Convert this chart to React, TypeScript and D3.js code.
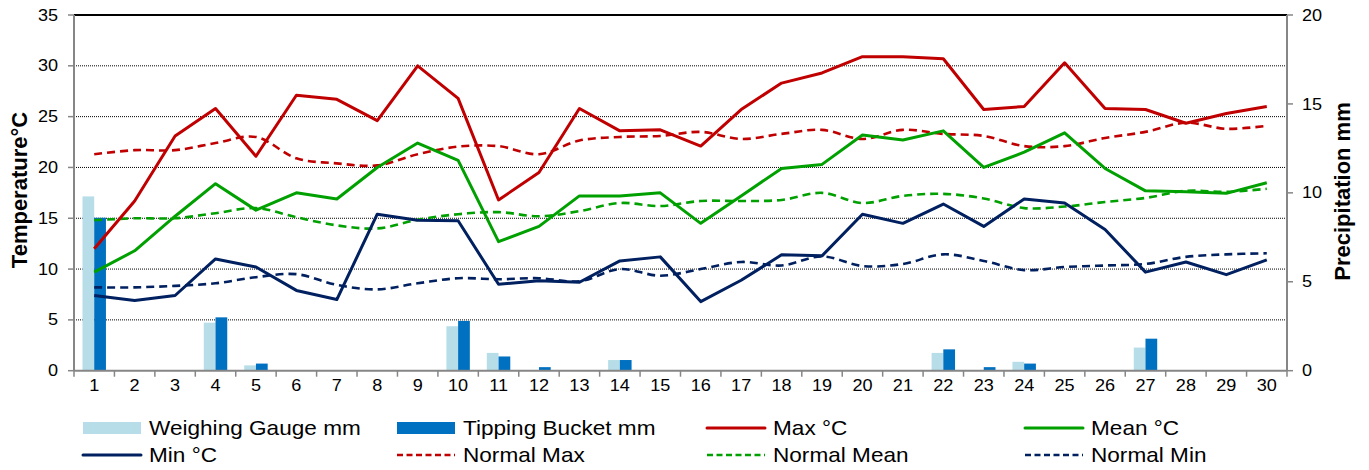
import React from "react";
import * as d3 from "d3";

const days = d3.range(1, 31).map(String);
const tempTicks = [0, 5, 10, 15, 20, 25, 30, 35];
const precipTicks = [0, 5, 10, 15, 20];

const weighingGauge = [9.8, 0, 0, 2.7, 0.3, 0, 0, 0, 0, 2.5, 1.0, 0, 0, 0.6, 0, 0, 0, 0, 0, 0, 0, 1.0, 0, 0.5, 0, 0, 1.3, 0, 0, 0];
const tippingBucket = [8.6, 0, 0, 3.0, 0.4, 0, 0, 0, 0, 2.8, 0.8, 0.2, 0, 0.6, 0, 0, 0, 0, 0, 0, 0, 1.2, 0.2, 0.4, 0, 0, 1.8, 0, 0, 0];

const maxT = [12.0, 16.7, 23.1, 25.8, 21.1, 27.1, 26.7, 24.6, 30.0, 26.8, 16.8, 19.5, 25.8, 23.6, 23.7, 22.1, 25.7, 28.3, 29.3, 30.9, 30.9, 30.7, 25.7, 26.0, 30.3, 25.8, 25.7, 24.35, 25.3, 26.0];
const meanT = [9.7, 11.8, 15.2, 18.4, 15.8, 17.5, 16.9, 20.0, 22.4, 20.7, 12.7, 14.2, 17.2, 17.2, 17.5, 14.5, 17.2, 19.9, 20.3, 23.2, 22.7, 23.6, 20.0, 21.5, 23.4, 19.9, 17.7, 17.6, 17.45, 18.5];
const minT = [7.4, 6.9, 7.4, 11.0, 10.2, 7.9, 7.0, 15.4, 14.8, 14.75, 8.5, 8.85, 8.7, 10.8, 11.2, 6.8, 8.9, 11.4, 11.3, 15.4, 14.5, 16.4, 14.2, 16.9, 16.5, 13.9, 9.7, 10.7, 9.45, 10.9];
const normalMax = [21.3, 21.7, 21.7, 22.4, 23.0, 20.9, 20.4, 20.2, 21.3, 22.05, 22.1, 21.3, 22.65, 23.0, 23.1, 23.5, 22.8, 23.3, 23.7, 22.8, 23.7, 23.3, 23.1, 22.1, 22.1, 22.9, 23.5, 24.4, 23.8, 24.1];
const normalMean = [14.8, 15.0, 15.0, 15.5, 16.0, 15.1, 14.3, 14.0, 14.85, 15.4, 15.6, 15.2, 15.7, 16.5, 16.2, 16.7, 16.7, 16.8, 17.5, 16.5, 17.2, 17.4, 16.95, 16.0, 16.15, 16.6, 17.0, 17.7, 17.6, 17.9];
const normalMin = [8.2, 8.2, 8.35, 8.6, 9.2, 9.5, 8.45, 8.0, 8.6, 9.1, 9.0, 9.1, 8.8, 10.0, 9.35, 10.0, 10.7, 10.35, 11.25, 10.3, 10.5, 11.45, 10.8, 9.9, 10.2, 10.35, 10.5, 11.2, 11.45, 11.55];

const W = 1369;
const H = 470;
const L = 74;
const R = 1287;
const T = 15;
const B = 370.7;

const font = "'Liberation Sans', Arial, sans-serif";

export default function App() {
  const x = d3.scaleBand<string>().domain(days).range([L, R]).paddingInner(0).paddingOuter(0);
  const yT = d3.scaleLinear().domain([0, 35]).range([B, T]);
  const yP = d3.scaleLinear().domain([0, 20]).range([B, T]);
  const bw = x.bandwidth();
  const barW = bw * 0.29;
  const cx = (i: number) => (x(days[i]) as number) + bw / 2;

  const solid = d3.line<number>().x((_, i) => cx(i)).y((v) => yT(v));
  const smooth = d3
    .line<number>()
    .x((_, i) => cx(i))
    .y((v) => yT(v))
    .curve(d3.curveCatmullRom.alpha(0.5));

  const series = [
    { data: normalMin, color: "#002060", dash: true },
    { data: normalMean, color: "#00A000", dash: true },
    { data: normalMax, color: "#C00000", dash: true },
    { data: minT, color: "#002060", dash: false },
    { data: meanT, color: "#00A000", dash: false },
    { data: maxT, color: "#C00000", dash: false },
  ];

  const legend = [
    { label: "Weighing Gauge mm", kind: "bar", color: "#B7DEE8", col: 0, row: 0 },
    { label: "Tipping Bucket mm", kind: "bar", color: "#0070C0", col: 1, row: 0 },
    { label: "Max °C", kind: "line", color: "#C00000", col: 2, row: 0 },
    { label: "Mean °C", kind: "line", color: "#00A000", col: 3, row: 0 },
    { label: "Min °C", kind: "line", color: "#002060", col: 0, row: 1 },
    { label: "Normal Max", kind: "dash", color: "#C00000", col: 1, row: 1 },
    { label: "Normal Mean", kind: "dash", color: "#00A000", col: 2, row: 1 },
    { label: "Normal Min", kind: "dash", color: "#002060", col: 3, row: 1 },
  ];
  const colX = [83, 397, 707, 1025];
  const rowY = [428, 455];
  const sx = 1.13;

  return (
    <svg
      width={W}
      height={H}
      style={{ position: "absolute", left: 0, top: 0, background: "#fff" }}
      fontFamily={font}
    >
      <rect x={0} y={0} width={W} height={H} fill="#fff" />
      {/* gridlines */}
      {tempTicks.filter((t) => t > 0 && t < 35).map((t) => (
        <line key={t} x1={L} x2={R} y1={yT(t)} y2={yT(t)} stroke="#000" strokeWidth={1} strokeDasharray="1,1" />
      ))}
      <line x1={L} x2={R} y1={T} y2={T} stroke="#000" strokeWidth={2} />

      {/* bars */}
      {weighingGauge.map((v, i) => (
        <rect key={"w" + i} x={cx(i) - barW} width={barW} y={yP(v)} height={B - yP(v)} fill="#B7DEE8" />
      ))}
      {tippingBucket.map((v, i) => (
        <rect key={"t" + i} x={cx(i)} width={barW} y={yP(v)} height={B - yP(v)} fill="#0070C0" />
      ))}

      {/* lines */}
      {series.map((s, k) => (
        <path
          key={k}
          d={(s.dash ? smooth(s.data) : solid(s.data)) || ""}
          fill="none"
          stroke={s.color}
          strokeWidth={s.dash ? 2.6 : 3}
          strokeDasharray={s.dash ? "8,5" : undefined}
          strokeLinejoin="round"
        />
      ))}

      {/* axes */}
      <line x1={L} x2={L} y1={T} y2={B} stroke="#868686" strokeWidth={2} />
      <line x1={R} x2={R} y1={T} y2={B} stroke="#868686" strokeWidth={2} />
      <line x1={L} x2={R} y1={B} y2={B} stroke="#868686" strokeWidth={2} />
      {tempTicks.map((t) => (
        <g key={"lt" + t}>
          <line x1={L - 6} x2={L} y1={yT(t)} y2={yT(t)} stroke="#868686" strokeWidth={1.5} />
          <text
            transform={`translate(58,${yT(t)}) scale(${sx},1)`}
            dy="0.35em"
            textAnchor="end"
            fontSize={16}
            fill="#000"
          >
            {t}
          </text>
        </g>
      ))}
      {precipTicks.map((t) => (
        <g key={"rt" + t}>
          <line x1={R} x2={R + 6} y1={yP(t)} y2={yP(t)} stroke="#868686" strokeWidth={1.5} />
          <text
            transform={`translate(1302,${yP(t)}) scale(${sx},1)`}
            dy="0.35em"
            textAnchor="start"
            fontSize={16}
            fill="#000"
          >
            {t}
          </text>
        </g>
      ))}
      {d3.range(0, 31).map((i) => (
        <line key={"xt" + i} x1={L + i * bw} x2={L + i * bw} y1={B} y2={B + 6} stroke="#868686" strokeWidth={1.5} />
      ))}
      {days.map((d, i) => (
        <text
          key={"xl" + d}
          transform={`translate(${cx(i)},391) scale(${sx},1)`}
          textAnchor="middle"
          fontSize={16}
          fill="#000"
        >
          {d}
        </text>
      ))}

      {/* axis titles */}
      <text
        transform={`translate(27,190) rotate(-90)`}
        textAnchor="middle"
        fontSize={22}
        fontWeight="bold"
        fill="#000"
      >
        Temperature°C
      </text>
      <text
        transform={`translate(1350,191.5) rotate(-90)`}
        textAnchor="middle"
        fontSize={22}
        fontWeight="bold"
        fill="#000"
      >
        Precipitation mm
      </text>

      {/* legend */}
      {legend.map((e) => {
        const lx = colX[e.col];
        const ly = rowY[e.row];
        return (
          <g key={e.label}>
            {e.kind === "bar" ? (
              <rect x={lx} y={ly - 6} width={58} height={12} fill={e.color} />
            ) : (
              <line
                x1={lx}
                x2={lx + 58}
                y1={ly}
                y2={ly}
                stroke={e.color}
                strokeWidth={e.kind === "line" ? 3 : 2.5}
                strokeDasharray={e.kind === "dash" ? "6,3.5" : undefined}
                strokeLinecap={e.kind === "line" ? "round" : "butt"}
              />
            )}
            <text
              transform={`translate(${lx + 66},${ly}) scale(${sx},1)`}
              dy="0.35em"
              fontSize={20}
              fill="#000"
            >
              {e.label}
            </text>
          </g>
        );
      })}
    </svg>
  );
}
